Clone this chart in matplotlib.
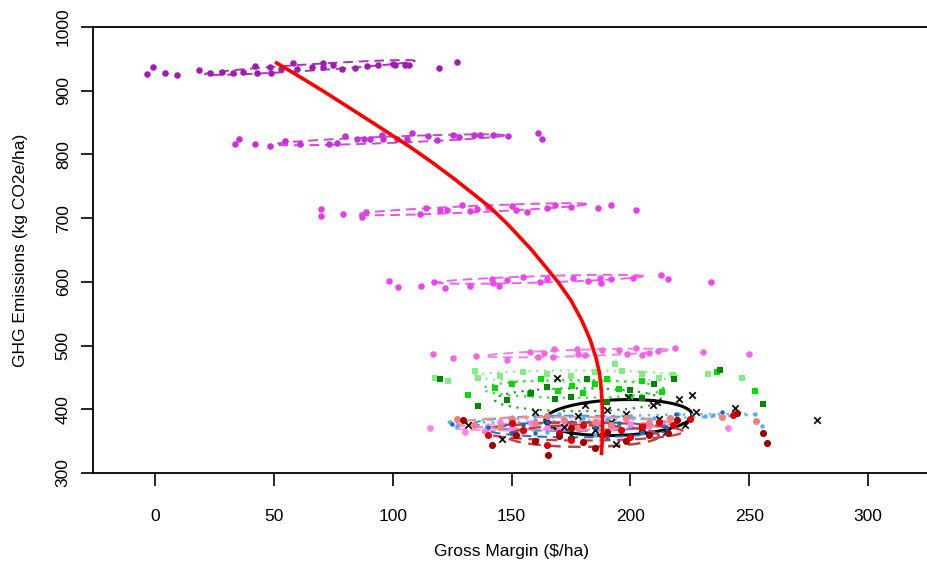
import numpy as np
import matplotlib
matplotlib.use("Agg")
import matplotlib.pyplot as plt

plt.rcParams['font.family'] = ['Liberation Sans', 'DejaVu Sans']

# ---------------- data ----------------
g1_x = [-3.5, -1, 4.2, 9.4, 18.5, 23, 28, 33, 37, 42, 43, 48.4, 49, 53, 58, 59.6, 66, 70.7, 70.7, 75, 78.5, 84, 89, 94, 100, 101, 105, 107, 119.5, 127]
g1_y = [926, 937, 928, 925, 932, 928, 930, 928, 929, 939, 928, 938, 928, 934, 943, 934, 937, 943, 938, 940, 934, 936, 939, 940, 942, 941, 941, 941, 935, 945]
g2_x = [33.6, 35.5, 42, 48.4, 54.7, 61, 73, 76.4, 80, 85, 88, 90.5, 95.4, 96, 101.7, 106, 108, 115, 118.5, 125.5, 128, 134, 136.7, 142, 148.6, 161, 162.7]
g2_y = [816, 825, 817, 813, 821.6, 816, 816, 818, 829, 825, 825, 824, 830, 824, 825, 824, 833, 829, 822, 830, 827, 830, 830, 830, 829, 833, 824]
g3_x = [69.7, 69.7, 79, 87, 88.8, 111.5, 114, 120, 122.7, 129, 132.5, 135.3, 140, 150, 152, 156.4, 164.8, 168.3, 175, 186.5, 192, 202.4]
g3_y = [714, 704, 706, 702, 710, 706, 716, 713, 713, 720.5, 711, 714, 718, 719.5, 713, 710, 716, 721, 718, 716, 721, 712]
g4_x = [98.4, 102.4, 112, 117.5, 122, 132.5, 141.6, 142, 144.7, 148, 155, 162, 164.8, 176, 182.3, 187.2, 187.5, 192, 201, 213, 216, 234]
g4_y = [601, 592, 594, 599, 590, 594, 604.5, 598, 594, 603, 608, 600, 604.5, 606.5, 601, 606.5, 598, 604.5, 605.5, 611, 604.5, 600]
g5_x = [116.8, 125.5, 135, 148, 157.8, 161.3, 163.7, 167.6, 167.9, 177.4, 178, 181, 188, 195, 198.4, 202.4, 204.7, 208, 211.7, 218.8, 230.7, 250]
g5_y = [487, 480, 483.6, 478, 490, 482.5, 487.7, 482.5, 494, 494, 487, 485, 493, 493, 487, 495.6, 485, 489, 492, 495.6, 490, 487]
g6_x = [115.7, 130.4, 138.8, 241, 150, 158, 165, 172, 180, 186, 192, 200, 208, 170, 155, 145]
g6_y = [371, 364.7, 366, 370, 372, 378, 370, 376, 373, 380, 371, 377, 374, 368, 366, 380]
g7_x = [117.8, 123.4, 134.6, 136, 155, 196.3, 232.8, 246.8, 165, 175, 185, 205, 212, 145, 193.5, 218]
g7_y = [449.5, 444, 460, 448.5, 458, 460, 454.8, 449.5, 455, 452, 458, 455, 449, 452, 470.6, 454]
g8_x = [131.5, 143, 157.8, 162.6, 169.7, 175.3, 236.3, 252.4, 213.2, 185, 195, 205, 150, 180, 200, 190]
g8_y = [422, 434, 423.4, 447.4, 428.6, 437, 459, 428.6, 427.5, 440, 432, 445, 440, 425, 420, 447]
g9_x = [120, 136, 148, 168.3, 181.6, 237.7, 256, 218.3, 158, 175, 190, 200, 210, 165, 205]
g9_y = [447.4, 405.5, 414.5, 416, 447.4, 462, 409, 447.4, 425, 420, 412, 430, 440, 435, 418]
g10_x = [131.8, 145.8, 169, 181, 190, 209.6, 211, 220.6, 226, 227.6, 223, 194, 244, 278.4, 199, 165, 172, 178, 185, 192, 198, 205, 212, 175, 160, 215]
g10_y = [375, 352.7, 448.5, 406.6, 398.7, 406.6, 411, 415.5, 422, 395.6, 375, 345.4, 401.4, 383, 419.6, 385, 372, 390, 368, 380, 392, 370, 385, 360, 395, 365]
g11_x = [231.4, 234.9, 252.4, 255.2, 124, 127, 150, 160, 170, 180, 190, 200, 210, 220, 145, 165, 185, 205]
g11_y = [390, 391, 392, 373.6, 380, 374, 388, 383, 392, 387, 384, 390, 386, 392, 370, 365, 360, 362]
g12_x = [238.4, 256, 219, 125, 140, 155, 165, 175, 185, 195, 205, 215, 160, 150, 190]
g12_y = [395, 363.7, 392, 377, 372, 375, 380, 355, 372, 378, 365, 372, 362, 362, 355]
g13_x = [216.7, 238.4, 253, 127, 134, 150, 160, 172, 185, 198, 208, 145, 178, 192, 165]
g13_y = [385.7, 388.3, 381.5, 384.6, 375, 385, 378, 383, 380, 386, 378, 372, 370, 375, 390]
g14_x = [243, 140, 164.8, 155, 170, 180, 188, 196, 205, 212, 218, 150, 225, 175, 200]
g14_y = [391, 359.5, 344, 368, 362, 375, 360, 368, 372, 380, 375, 378, 385, 352, 356]
g15_x = [219.5, 245, 255.6, 257.6, 216, 129.7, 141.6, 165.5, 152, 160, 170, 180, 190, 198, 208, 185, 175]
g15_y = [383, 393.5, 363, 347.5, 362, 383, 344, 329, 360, 350, 358, 348, 365, 350, 360, 340, 370]

# ellipse params: centre x, centre y, half-width, half-height, tilt (dy/dx)
ell_cx = [65.2, 98.75, 133.2, 162.2, 177.4, 170, 177, 176, 178, 195, 188, 175, 178, 172, 180, 180]
ell_cy = [936.5, 823, 714, 604, 488.3, 373, 452, 432, 415, 387, 386, 378, 368, 378, 365, 358]
ell_rx = [44.2, 48.25, 48.4, 43.2, 38.6, 45, 43, 38, 35, 31, 64.5, 40, 38, 45, 42, 32]
ell_ry = [5, 5, 5, 5, 5, 6, 9, 14, 18, 28, 3, 12, 12, 10, 14, 17]
ell_tilt = [0.238, 0.145, 0.165, 0.116, 0.122, 0.05, 0, 0, 0, 0.13, 0.093, 0, 0, 0, 0, 0]

curve_x = [50.5, 59.5, 70.5, 81, 91.5, 108, 117.5, 126.5, 141, 148.5, 158.5, 169.5, 175, 179.5, 183.1, 185.6, 187, 187.8, 188.2, 188.3, 187.8]
curve_y = [945, 925, 900, 875, 850, 810, 785, 760, 717, 690, 650, 600, 571, 540, 509, 480, 457, 430, 400, 360, 328]

# ---------------- styles ----------------
groups = [
    (g1_x, g1_y, '#A01AB4', 'o', 22, None),
    (g2_x, g2_y, '#C431D6', 'o', 22, None),
    (g3_x, g3_y, '#E53BE8', 'o', 22, None),
    (g4_x, g4_y, '#F044F0', 'o', 22, None),
    (g5_x, g5_y, '#F266E6', 'o', 22, None),
    (g6_x, g6_y, '#FF80F0', 'o', 24, None),
    (g7_x, g7_y, '#80EE80', 's', 15, None),
    (g8_x, g8_y, '#00DD00', 's', 15, None),
    (g9_x, g9_y, '#008800', 's', 15, None),
    (g10_x, g10_y, '#111111', 'x', 22, 1.3),
    (g11_x, g11_y, '#55AAFF', 'o', 10, None),
    (g12_x, g12_y, '#1565C0', 'o', 10, None),
    (g13_x, g13_y, '#F08080', 'o', 26, None),
    (g14_x, g14_y, '#E00000', 'o', 26, None),
    (g15_x, g15_y, '#A00000', 'o', 26, None),
]
ell_styles = [
    ('#B030C0', (0, (5, 3)), 1.4),
    ('#CC44DD', (0, (5, 3)), 1.4),
    ('#E850EC', (0, (5, 3)), 1.4),
    ('#F060F0', (0, (5, 3)), 1.4),
    ('#F080EC', (0, (5, 3)), 1.4),
    ('#FF90F0', (0, (5, 3)), 1.4),
    ('#90F090', (0, (1, 2.5)), 1.6),
    ('#30DD30', (0, (1, 2.5)), 1.6),
    ('#20A020', (0, (1, 2.5)), 1.6),
    ('#000000', '-', 2.2),
    ('#66B8FF', (0, (1, 2.5)), 1.8),
    ('#3399FF', (0, (5, 3)), 1.4),
    ('#2070D0', (0, (5, 3)), 1.4),
    ('#F49090', (0, (5, 3)), 1.6),
    ('#E83030', (0, (5, 3)), 1.6),
    ('#B04848', (0, (5, 3)), 1.8),
]

fig = plt.figure(figsize=(9.28, 5.68), dpi=100)
ax = fig.add_axes([93/928, 95/568, 1 - 93/928 + 0.002, (473 - 27)/568])

t = np.linspace(0, 2*np.pi, 300)
for i in range(len(ell_cx)):
    ex = ell_cx[i] + ell_rx[i]*np.cos(t)
    ey = ell_cy[i] + ell_ry[i]*np.sin(t) + ell_tilt[i]*(ex - ell_cx[i])
    c, ls, lw = ell_styles[i]
    ax.plot(ex, ey, color=c, ls=ls, lw=lw, zorder=2)

for gx, gy, c, m, s, lw in groups:
    if m == 'x':
        ax.scatter(gx, gy, c=c, marker=m, s=s, linewidths=lw, zorder=3)
    else:
        ax.scatter(gx, gy, c=c, marker=m, s=s, linewidths=0, zorder=3)

ax.plot(curve_x, curve_y, color='#FF0000', lw=2.6, zorder=4, solid_capstyle='butt')

ax.set_xlim(-26.1, 326)
ax.set_ylim(300, 1000)
ax.spines['right'].set_visible(False)
for sp in ['left', 'bottom', 'top']:
    ax.spines[sp].set_linewidth(1.3)
ax.set_xticks([0, 50, 100, 150, 200, 250, 300])
ax.set_yticks([300, 400, 500, 600, 700, 800, 900, 1000])
ax.tick_params(axis='both', direction='out', length=9, width=1.2, labelsize=12.5)
ax.tick_params(axis='x', pad=17)
ax.tick_params(axis='y', pad=7)
for lab in ax.get_yticklabels():
    lab.set_rotation(90)
    lab.set_va('center')
ax.set_xlabel('Gross Margin ($/ha)', fontsize=12.5, labelpad=14)
ax.set_ylabel('GHG Emissions (kg CO2e/ha)', fontsize=12.5, labelpad=20)

fig.savefig('out.png', dpi=100)
